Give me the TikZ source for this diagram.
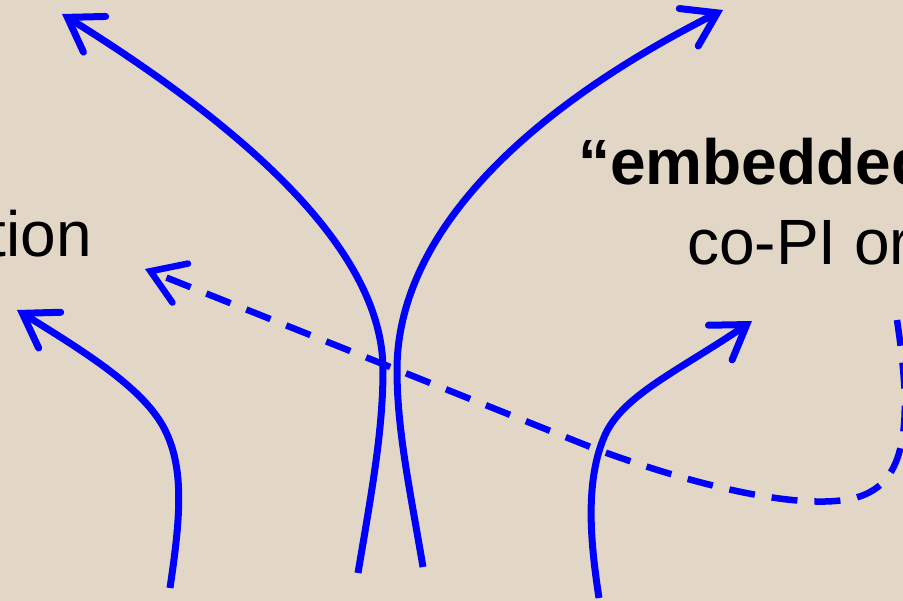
\documentclass[tikz,border=0pt]{standalone}
\usepackage{fontspec}
\setmainfont{Liberation Sans}
\usetikzlibrary{arrows.meta}
\definecolor{bgbeige}{RGB}{226,215,198}
\definecolor{flowblue}{RGB}{0,0,255}
\tikzset{
  flow/.style={draw=flowblue, line width=7pt, line cap=butt,
    -{Straight Barb[length=32pt, width=42pt, line cap=round, line join=miter]}},
  dflow/.style={flow, line width=6.5pt, dash pattern=on 26pt off 17pt},
  lbl/.style={inner sep=0pt, font=\fontsize{64}{70}\selectfont, text=black}
}
\begin{document}
\begin{tikzpicture}[x=1pt, y=-1pt]
  \useasboundingbox (0,0) rectangle (903,601);
  \fill[bgbeige] (0,0) rectangle (903,601);
  \clip (0,0) rectangle (903,601);

  \node[lbl, anchor=base east] (tion) at (92,257) {tion};
  \node[lbl, anchor=base west] (emb) at (578,185) {\bfseries “embedded};
  \node[lbl, anchor=base west] (copi) at (687,265) {co-PI or};

  % left top
  \coordinate (lt0) at (358,573);
  \coordinate (lt1) at (383,370);
  \coordinate (lt2) at (62,14);
  \draw[flow] (lt0) .. controls (372,490) and (383,430) .. (lt1)
                    .. controls (383,250) and (245,128) .. (lt2);
  % right top
  \coordinate (rt0) at (423,567);
  \coordinate (rt1) at (397,370);
  \coordinate (rt2) at (723,10);
  \draw[flow] (rt0) .. controls (410,490) and (397,430) .. (rt1)
                    .. controls (397,240) and (515,115) .. (rt2);
  % left bottom
  \coordinate (lb0) at (170,588);
  \coordinate (lb1) at (165,430);
  \coordinate (lb2) at (17,310);
  \draw[flow] (lb0) .. controls (180,520) and (185,470) .. (lb1)
                    .. controls (145,390) and (90,355) .. (lb2);
  % right bottom
  \coordinate (rb0) at (599,598);
  \coordinate (rb1) at (605,435);
  \coordinate (rb2) at (752,321);
  \draw[flow] (rb0) .. controls (590,540) and (585,480) .. (rb1)
                    .. controls (623,395) and (680,370) .. (rb2);
  % dashed
  \coordinate (d0) at (897,320);
  \coordinate (d1) at (870,492);
  \coordinate (d2) at (593,448);
  \coordinate (d3) at (145,269);
  \draw[dflow] (d0) .. controls (909,400) and (912,470) .. (d1)
                    .. controls (830,515) and (720,495) .. (d2) -- (d3);
\end{tikzpicture}
\end{document}
